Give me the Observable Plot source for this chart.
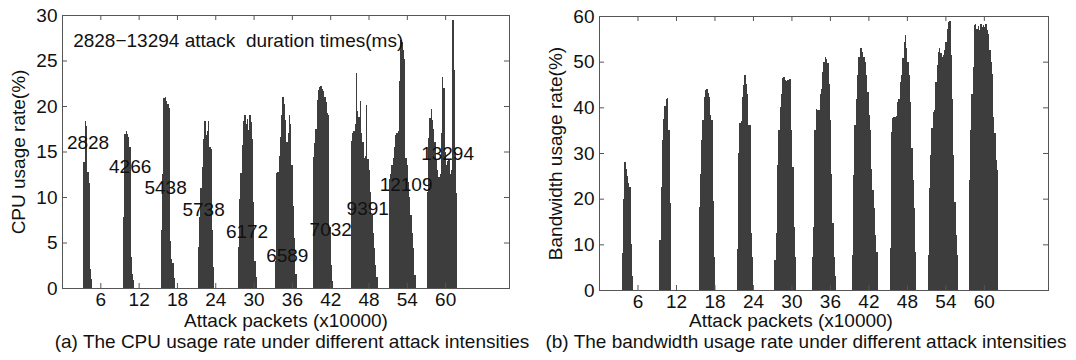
<!DOCTYPE html>
<html><head><meta charset="utf-8">
<script src="https://cdn.jsdelivr.net/npm/d3@7"></script>
<script src="https://cdn.jsdelivr.net/npm/@observablehq/plot@0.6"></script>
<style>
body{margin:0;background:#fff;font-family:"Liberation Sans",Arial,sans-serif;}
#wrap{position:relative;width:1076px;height:360px;overflow:hidden;background:#fff;}
.panel{position:absolute;top:0;}
.lbl{position:absolute;font-size:19px;color:#111;white-space:nowrap;transform:translateX(-50%);line-height:20px;}
</style></head><body>
<div id="wrap"></div>
<script>
// ---- data ----
const xTicks = [6, 12, 18, 24, 30, 36, 42, 48, 54, 60];
const cpuTicks = [0, 5, 10, 15, 20, 25, 30];
const bwTicks = [0, 10, 20, 30, 40, 50, 60];
const barStep = 0.2; // x10000 packets per bar

// CPU usage (%) – one array of bar heights per attack cluster
const cpuStarts = [3.36, 9.55, 15.49, 21.28, 27.54, 33.33, 39.28, 45.23, 51.17, 57.12];
const cpu1 = [13.8, 18.4, 17.8, 12.8, 11.5, 2.1, 1.0];
const cpu2 = [7.8, 16.9, 17.2, 16.9, 16.6, 15.5, 3.4, 1.5, 0.9];
const cpu3 = [6.4, 12.5, 20.9, 21.0, 20.6, 20.2, 19.8, 5.2, 3.2, 2.7, 1.1];
const cpu4 = [4.5, 7.8, 11.0, 13.3, 16.4, 18.4, 16.8, 17.2, 18.3, 15.5, 15.3, 6.4, 2.3];
const cpu5 = [4.5, 9.8, 12.6, 15.7, 18.3, 19.0, 18.0, 18.6, 17.4, 19.0, 18.2, 16.4, 9.5, 3.0, 1.2];
const cpu6 = [3.0, 12.6, 12.8, 14.5, 16.6, 19.0, 21.0, 20.2, 18.5, 16.0, 17.0, 19.0, 18.0, 13.5, 9.0, 5.5, 1.5];
const cpu7 = [14.4, 15.9, 17.5, 20.7, 21.8, 22.1, 22.2, 21.9, 21.6, 21.0, 20.4, 19.2, 19.0, 6.7, 2.5, 0.8];
const cpu8 = [16.1, 17.0, 17.2, 18.0, 23.6, 19.5, 18.8, 20.5, 17.0, 16.0, 14.3, 14.5, 20.1, 14.2, 13.0, 10.5, 8.0, 6.0, 4.4, 2.5, 1.2];
const cpu9 = [12.0, 12.5, 13.5, 14.3, 15.5, 16.8, 17.0, 17.2, 22.7, 27.3, 27.0, 26.2, 25.2, 14.3, 13.5, 11.7, 10.0, 8.0, 6.0, 4.4, 1.4];
const cpu10 = [10.5, 16.5, 18.7, 19.7, 18.5, 17.5, 16.0, 14.1, 13.0, 12.2, 12.5, 17.0, 23.2, 22.0, 15.0, 13.5, 14.0, 14.1, 12.5, 13.0, 29.5, 24.0, 15.0, 10.4];

// Bandwidth usage (%)
const bwStarts = [3.54, 9.41, 15.52, 21.48, 27.35, 33.18, 39.42, 45.29, 51.22, 57.64];
const bw1 = [8.1, 20.0, 28.1, 26.4, 25.0, 23.5, 22.5, 10.0, 3.0];
const bw2 = [10.9, 22.6, 32.8, 37.5, 40.2, 41.9, 42.0, 35.0, 19.0];
const bw3 = [18.2, 25.5, 32.8, 37.2, 42.3, 43.9, 44.0, 43.2, 42.3, 38.3, 37.2, 19.5, 7.3];
const bw4 = [9.0, 30.0, 36.5, 37.0, 42.3, 45.0, 47.0, 45.2, 43.0, 36.1, 36.1, 12.4, 7.3];
const bw5 = [6.6, 12.4, 27.3, 35.0, 40.1, 43.0, 46.5, 46.6, 46.0, 45.8, 46.0, 46.1, 46.2, 35.0, 27.0, 13.8, 7.3];
const bw6 = [7.3, 13.8, 35.0, 39.7, 39.5, 39.4, 43.0, 44.0, 47.8, 49.9, 51.0, 50.5, 49.6, 45.2, 37.2, 25.5, 14.6, 7.3, 3.0];
const bw7 = [7.7, 25.2, 36.1, 41.9, 47.0, 51.0, 52.9, 53.0, 52.1, 51.0, 49.9, 47.0, 43.4, 38.3, 35.0, 26.6, 22.0, 17.9, 12.0, 8.4];
const bw8 = [9.1, 34.6, 37.6, 37.9, 37.9, 38.0, 41.2, 41.9, 45.6, 47.0, 50.7, 54.3, 55.8, 52.9, 50.0, 47.0, 41.2, 31.0, 24.0, 17.9, 8.4];
const bw9 = [7.7, 22.3, 29.5, 35.4, 39.0, 39.4, 45.6, 49.2, 52.1, 52.9, 51.8, 51.0, 51.4, 52.5, 54.3, 57.2, 58.7, 58.9, 51.4, 41.9, 29.5, 19.3, 12.0, 7.7];
const bw10 = [24.0, 35.0, 43.0, 48.9, 58.0, 58.2, 57.2, 57.8, 57.0, 58.3, 57.5, 58.0, 57.6, 58.2, 56.9, 56.1, 52.5, 50.0, 47.4, 37.9, 34.3, 28.4, 26.3];

// attack duration annotations (ms)
const durLabels = ["2828", "4266", "5438", "5738", "6172", "6589", "7032", "9391", "12109", "13294"];
const durX = [4.0, 10.6, 16.15, 22.1, 28.9, 35.2, 42.0, 47.8, 53.8, 60.3];
const durY = [16.0, 13.4, 11.1, 8.6, 6.2, 3.6, 6.45, 8.75, 11.4, 14.8];
const noteText = "2828\u221213294 attack\u00a0 duration times(ms)";
const noteX = 1.67, noteY = 27.25;

const xLabel = "Attack packets (x10000)";
const cpuLabel = "CPU usage rate(%)";
const bwLabel = "Bandwidth usage rate(%)";
const captionA = "(a) The CPU usage rate under different attack intensities";
const captionB = "(b) The bandwidth usage rate under different attack intensities";

// ---- build ----
function toBars(starts, clusters) {
  const out = [];
  clusters.forEach((hs, c) => hs.forEach((h, i) => out.push({x1: starts[c] + i * barStep, x2: starts[c] + (i + 1) * barStep, y: h})));
  return out;
}
const cpuBars = toBars(cpuStarts, [cpu1, cpu2, cpu3, cpu4, cpu5, cpu6, cpu7, cpu8, cpu9, cpu10]);
const bwBars = toBars(bwStarts, [bw1, bw2, bw3, bw4, bw5, bw6, bw7, bw8, bw9, bw10]);

const FONT = '"Liberation Sans", Arial, sans-serif';
const AX = "#555";
const FS = 19;

function panel({bars, yDomain, yTicks, yLabel, mt, mb, ml, mr, extra}) {
  const H = 312, W = 538;
  const innerH = H - mt - mb, innerW = W - ml - mr;
  return Plot.plot({
    width: W, height: H, marginTop: mt, marginBottom: mb, marginLeft: ml, marginRight: mr,
    style: {fontFamily: FONT, fontSize: FS + "px", color: "#111", background: "transparent", overflow: "visible"},
    x: {domain: [0, 70]},
    y: {domain: yDomain},
    marks: [
      Plot.rectY(bars, {x1: "x1", x2: "x2", y: "y", fill: "#3d3d3d", inset: 0, shapeRendering: "crispEdges"}),
      Plot.frame({stroke: AX}),
      Plot.tickX(xTicks, {x: d => d, stroke: AX, insetTop: innerH - 5}),
      Plot.tickX(xTicks, {x: d => d, stroke: AX, insetBottom: innerH - 5}),
      Plot.tickY(yTicks, {y: d => d, stroke: AX, insetRight: innerW - 5}),
      Plot.tickY(yTicks, {y: d => d, stroke: AX, insetLeft: innerW - 5}),
      Plot.axisX(xTicks, {tickSize: 0, tickPadding: 4, label: null, fontSize: FS}),
      Plot.axisY(yTicks, {tickSize: 0, tickPadding: 5, label: yLabel, labelAnchor: "center", labelArrow: "none", labelOffset: 51, fontSize: FS}),
      ...extra
    ]
  });
}

const note = [{x: noteX, y: noteY, t: noteText}];
const durs = durLabels.map((t, i) => ({t, x: durX[i], y: durY[i]}));

const left = panel({
  bars: cpuBars, yDomain: [0, 30], yTicks: cpuTicks, yLabel: cpuLabel, mt: 15, mb: 24, ml: 62, mr: 29,
  extra: [
    Plot.text(note, {x: "x", y: "y", text: "t", textAnchor: "start", fontSize: FS, fill: "#111"}),
    Plot.text(durs, {x: "x", y: "y", text: "t", fontSize: FS, fill: "#111"})
  ]
});
const right = panel({
  bars: bwBars, yDomain: [0, 60], yTicks: bwTicks, yLabel: bwLabel, mt: 16, mb: 22, ml: 61, mr: 28, extra: []
});

const wrap = document.getElementById("wrap");
left.classList.add("panel"); left.style.left = "0px";
right.classList.add("panel"); right.style.left = "538px";
wrap.appendChild(left); wrap.appendChild(right);

function addLabel(text, cx, top) {
  const d = document.createElement("div");
  d.className = "lbl"; d.textContent = text;
  d.style.left = cx + "px"; d.style.top = top + "px";
  wrap.appendChild(d);
}
addLabel(xLabel, 286, 311);
addLabel(captionA, 292, 332);
addLabel(xLabel, 791, 311);
addLabel(captionB, 806, 332);
</script>
</body></html>
